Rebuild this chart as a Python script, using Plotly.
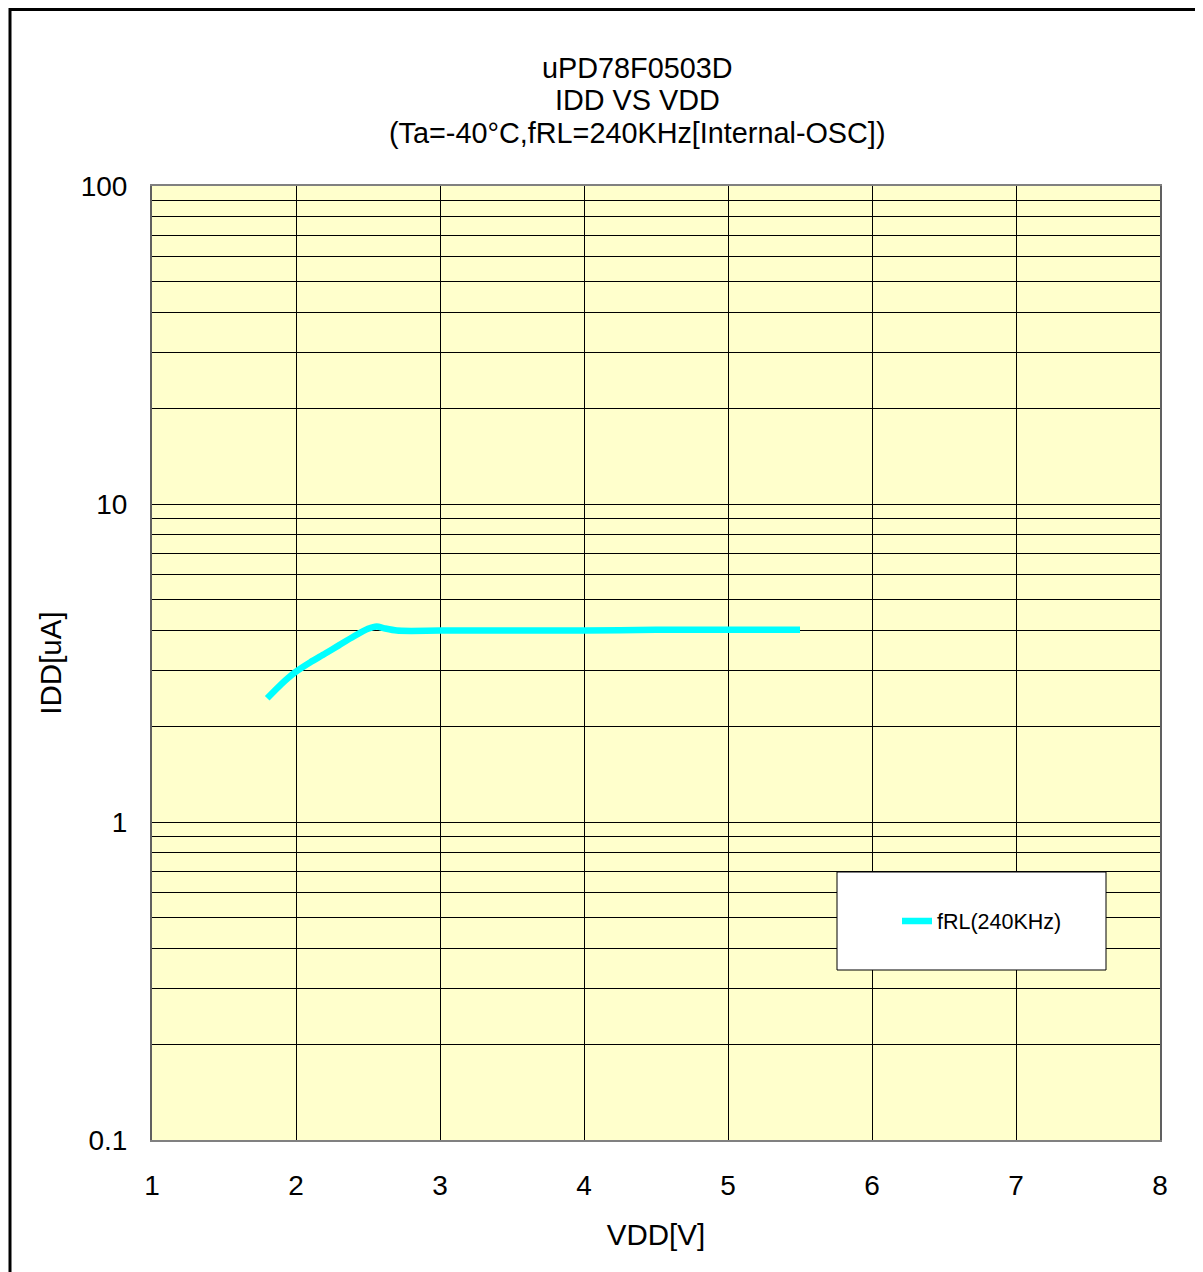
import plotly.graph_objects as go

# Data
vdd = [1.8, 1.9, 2.0, 2.1, 2.2, 2.3, 2.4, 2.5, 2.56, 2.62, 2.7, 2.8, 3.0, 3.5, 4.0, 4.5, 5.0, 5.5]
idd = [2.45, 2.72, 2.97, 3.18, 3.38, 3.6, 3.83, 4.05, 4.12, 4.06, 4.0, 3.99, 4.0, 4.0, 4.0, 4.02, 4.02, 4.02]
series_name = "fRL(240KHz)"

title_lines = ["uPD78F0503D", "IDD VS VDD", "(Ta=-40°C,fRL=240KHz[Internal-OSC])"]
x_title = "VDD[V]"
y_title = "IDD[uA]"

x_ticks = [1, 2, 3, 4, 5, 6, 7, 8]
y_grid_vals = [m * 10 ** e for e in (-1, 0, 1) for m in range(1, 10)] + [100]
y_major = {0.1: "0.1", 1: "1", 10: "10", 100: "100"}
y_tick_text = [y_major.get(round(v, 6), "") for v in y_grid_vals]

FONT = "Liberation Sans, Arial, sans-serif"

# page offset (browser body margin)
OFF = 8
W, H = 1203 - OFF, 1272 - OFF
L, R, T, B = 152 - OFF, 1160 - OFF, 186 - OFF, 1140 - OFF


def px(xp):
    return (xp - OFF - L) / (R - L)


def py(yp):
    return 1 - (yp - OFF - T) / (B - T)


fig = go.Figure()
fig.add_trace(go.Scatter(
    x=vdd, y=idd, mode="lines", name=series_name,
    line=dict(color="#00FFFF", width=6.5, shape="spline", smoothing=0.6),
))

fig.update_layout(
    width=W, height=H,
    margin=dict(l=L, r=W - R, t=T, b=H - B, autoexpand=False),
    paper_bgcolor="white",
    plot_bgcolor="#FFFFCC",
    font=dict(family=FONT, color="black", size=28),
    showlegend=True,
    legend=dict(
        x=px(897), y=py(921), xanchor="left", yanchor="middle",
        bgcolor="rgba(0,0,0,0)", borderwidth=0,
        font=dict(size=21.5, family=FONT, color="black"),
        itemwidth=30,
    ),
    xaxis=dict(
        range=[1, 8], tickvals=x_ticks, ticks="", showgrid=True,
        gridcolor="black", gridwidth=1, zeroline=False,
        showline=True, linecolor="#808080", linewidth=2, mirror=True,
        ticklabelstandoff=19, tickfont=dict(size=28),
        title=dict(text=x_title, font=dict(size=29.5), standoff=25),
    ),
    yaxis=dict(
        type="log", range=[-1, 2], tickvals=y_grid_vals, ticktext=y_tick_text,
        ticks="", showgrid=True, gridcolor="black", gridwidth=1, zeroline=False,
        showline=True, linecolor="#606060", linewidth=2, mirror=True,
        ticklabelstandoff=17, tickfont=dict(size=28),
        title=dict(text=y_title, font=dict(size=29.5), standoff=10),
    ),
    shapes=[
        # outer frame
        dict(type="rect", xref="paper", yref="paper", layer="below",
             x0=px(10), x1=px(1198), y0=py(1300), y1=py(9.5),
             line=dict(color="black", width=3), fillcolor="rgba(0,0,0,0)"),
        # legend box
        dict(type="rect", xref="paper", yref="paper", layer="above",
             x0=px(837), x1=px(1106), y0=py(970), y1=py(872),
             line=dict(color="black", width=1), fillcolor="white"),
    ],
)

title_y = [68, 100, 133]
for txt, yc in zip(title_lines, title_y):
    fig.add_annotation(text=txt, xref="paper", yref="paper",
                       x=px(637), y=py(yc),
                       xanchor="center", yanchor="middle", showarrow=False,
                       font=dict(size=28.8, family=FONT, color="black"))

fig.write_html("out.html")
